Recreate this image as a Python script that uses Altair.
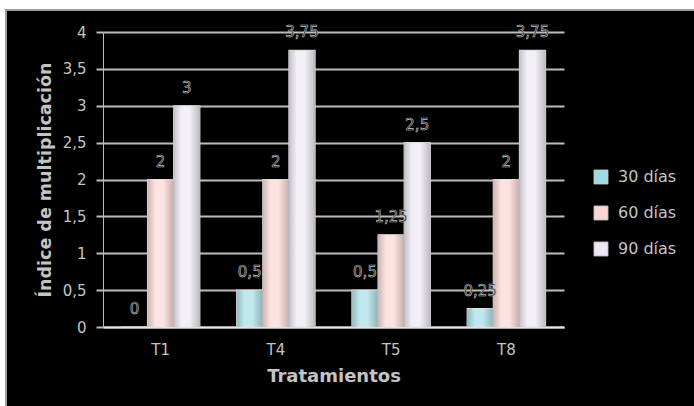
import altair as alt
import pandas as pd

categorias = ["T1", "T4", "T5", "T8"]
series = ["30 días", "60 días", "90 días"]
v30 = [0, 0.5, 0.5, 0.25]
v60 = [2, 2, 1.25, 2]
v90 = [3, 3.75, 2.5, 3.75]
colores = ["#9fd9e6", "#fdd3d3", "#ece7f3"]
y_ticks = [0, 0.5, 1, 1.5, 2, 2.5, 3, 3.5, 4]

rows = []
for s, vals in zip(series, [v30, v60, v90]):
    for c, v in zip(categorias, vals):
        rows.append({"Tratamiento": c, "Serie": s, "Valor": v})
df = pd.DataFrame(rows)

FONT = "DejaVu Sans"
TXT = "#c4c4c4"
GRID = "#bdbdbd"

x = alt.X(
    "Tratamiento:N",
    sort=categorias,
    scale=alt.Scale(paddingInner=0.32, paddingOuter=0.16),
    axis=alt.Axis(
        title="Tratamientos", labelAngle=0, ticks=False, labelPadding=15,
        labelFontSize=15, labelColor=TXT, labelFont=FONT,
        domainColor="#e8e8e8", domainWidth=2,
        titleFont=FONT, titleFontSize=18, titleFontWeight="bold",
        titleColor=TXT, titlePadding=10,
    ),
)
xoff = alt.XOffset("Serie:N", sort=series,
                   scale=alt.Scale(domain=series, paddingInner=0, paddingOuter=0))
y = alt.Y(
    "Valor:Q",
    scale=alt.Scale(domain=[0, 4], nice=False),
    axis=alt.Axis(
        title="Índice de multiplicación", values=y_ticks,
        labelExpr="replace(toString(datum.value), '.', ',')",
        labelFontSize=15, labelColor=TXT, labelFont=FONT, labelPadding=10,
        tickSize=7, tickColor=GRID, tickWidth=2,
        grid=True, gridColor=GRID, gridWidth=2,
        domainColor=GRID, domainWidth=1,
        titleFont=FONT, titleFontSize=17.5, titleFontWeight="bold",
        titleColor=TXT, titlePadding=8,
    ),
)

bars = alt.Chart(df).mark_bar(stroke="#dcdcdc", strokeWidth=1.2).encode(
    x=x, xOffset=xoff, y=y,
    color=alt.Color(
        "Serie:N",
        scale=alt.Scale(domain=series, range=colores),
        legend=alt.Legend(
            title=None, orient="none", legendX=490, legendY=137,
            symbolType="square", symbolSize=190,
            symbolStrokeColor="#d8d8d8", symbolStrokeWidth=1,
            labelFont=FONT, labelFontSize=16, labelColor=TXT,
            labelOffset=9, rowPadding=18, padding=0,
        ),
    ),
)

shade = alt.Chart(df).mark_bar(
    opacity=0.35,
    fill=alt.Gradient(
        gradient="linear", x1=0, x2=1, y1=0, y2=0,
        stops=[
            alt.GradientStop(color="#7a7a7a", offset=0),
            alt.GradientStop(color="#ffffff", offset=0.3),
            alt.GradientStop(color="#ffffff", offset=0.6),
            alt.GradientStop(color="#6a6a6a", offset=1),
        ],
    ),
).encode(x=x, xOffset=xoff, y=y)

labels = alt.Chart(df).transform_calculate(
    lab="replace(toString(datum.Valor), '.', ',')"
).mark_text(
    font=FONT, fontSize=15, dy=-13, baseline="alphabetic",
    fill="#111111", stroke=TXT, strokeWidth=0.6,
).encode(x=x, xOffset=xoff, y=y, text="lab:N")

deco = alt.Data(values=[{"k": 1}])
top_white = alt.Chart(deco).mark_rect(color="white").encode(
    x=alt.value(-103), x2=alt.value(600), y=alt.value(-32), y2=alt.value(-22))
left_white = alt.Chart(deco).mark_rect(color="white").encode(
    x=alt.value(-103), x2=alt.value(-98), y=alt.value(-32), y2=alt.value(390))
border_h = alt.Chart(deco).mark_rule(color="#9c9c9c", strokeWidth=2).encode(
    x=alt.value(-98), x2=alt.value(600), y=alt.value(-22))
border_v = alt.Chart(deco).mark_rule(color="#9c9c9c", strokeWidth=2).encode(
    x=alt.value(-97), y=alt.value(-22), y2=alt.value(390))

chart = alt.layer(
    bars, shade, labels, top_white, left_white, border_h, border_v
).properties(
    width=461, height=295,
    autosize=alt.AutoSizeParams(type="none"),
    padding={"left": 103, "top": 32, "right": 130, "bottom": 79},
    background="black",
).configure_view(stroke=None)

chart.save("out.html", embed_options={"renderer": "svg", "actions": False})
